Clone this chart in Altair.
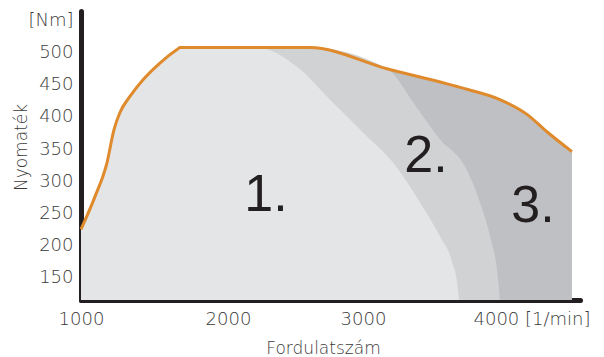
import altair as alt
import pandas as pd

# Full-load torque curve (orange line)
torque_rpm = [1000, 1095, 1177, 1224, 1265, 1333, 1422, 1537, 1653, 1673,
              2215, 2607, 3179, 3724, 4022, 4224, 4373, 4560]
torque_nm = [225, 276, 329, 380, 407, 432, 458, 484, 505, 508,
             508, 508, 475, 446, 427, 404, 377, 346]

# Boundary between zone 2 and zone 3
zone2_rpm = [3179, 3403, 3575, 3761, 3873, 3955, 4000, 4022]
zone2_nm = [475, 414, 365, 323, 267, 209, 162, 115]

# Boundary between zone 1 and zone 2
zone1_rpm = [2215, 2511, 2756, 3000, 3224, 3425, 3575, 3664, 3709, 3716]
zone1_nm = [508, 478, 427, 376, 329, 267, 214, 175, 131, 115]

# Zone labels
zone_labels = ["1.", "2.", "3."]
label_rpm = [2281, 3470, 4269]
label_nm = [253, 315, 237]

x_ticks = [1000, 2000, 3000, 4000]
y_ticks = [150, 200, 250, 300, 350, 400, 450, 500, 550]

curve = pd.DataFrame({"rpm": torque_rpm, "nm": torque_nm})


def zone(b_rpm, b_nm):
    pts = [(r, n) for r, n in zip(torque_rpm, torque_nm) if r < b_rpm[0]]
    pts += list(zip(b_rpm, b_nm))
    return pd.DataFrame(pts, columns=["rpm", "nm"])


zone2 = zone(zone2_rpm, zone2_nm)
zone1 = zone(zone1_rpm, zone1_nm)
labels = pd.DataFrame({"t": zone_labels, "rpm": label_rpm, "nm": label_nm})

x_scale = alt.Scale(domain=[1000, 2000, 3000, 4000, 4620],
                    range=[0, 147, 282, 416, 499], nice=False, zero=False)
y_scale = alt.Scale(domain=[115, 565], nice=False, zero=False)

x_axis = alt.Axis(
    values=x_ticks, format="d", title="Fordulatszám",
    labelExpr="datum.value == 4000 ? '4000 [1/min]' : datum.label",
    labelAlign={"condition": {"test": "datum.value == 4000", "value": "left"}, "value": "center"},
    labelOffset={"condition": {"test": "datum.value == 4000", "value": -24}, "value": 0},
    labelPadding=10, labelFlush=False, labelOverlap=False,
    titleX=242, titleY=53, titleBaseline="alphabetic", titleAlign="center",
)
y_axis = alt.Axis(
    values=y_ticks, format="d", title="Nyomaték",
    labelExpr="datum.value == 550 ? '[Nm]' : datum.label",
    labelPadding=8, labelOverlap=False, labelBaseline="middle",
    titleX=-60, titleY=136, titleBaseline="middle", titleAlign="center", titleAngle=270,
)

X = alt.X("rpm:Q", scale=x_scale, axis=x_axis)
Y = alt.Y("nm:Q", scale=y_scale, axis=y_axis)

a3 = alt.Chart(curve).mark_area(color="#bfc0c3", interpolate="monotone", clip=True).encode(x=X, y=Y)
a2 = alt.Chart(zone2).mark_area(color="#d1d2d4", interpolate="monotone", clip=True).encode(x=X, y=Y)
a1 = alt.Chart(zone1).mark_area(color="#e4e5e7", interpolate="monotone", clip=True).encode(x=X, y=Y)
line = alt.Chart(curve).mark_line(color="#df8a2c", strokeWidth=3, interpolate="monotone").encode(x=X, y=Y)
txt = alt.Chart(labels).mark_text(font="Liberation Sans", fontSize=52, color="#231f20",
                                  baseline="alphabetic", align="center").encode(x=X, y=Y, text="t:N")

chart = alt.layer(a3, a2, a1, line, txt).properties(
    width=499, height=289,
    autosize=alt.AutoSizeParams(type="none"),
    padding={"left": 73, "top": 3, "right": 16, "bottom": 56},
).configure_view(stroke=None).configure_axis(
    labelFont="DejaVu Sans", labelFontSize=18, labelColor="#3a3a3a", labelFontWeight=300,
    titleFont="DejaVu Sans", titleFontSize=17, titleColor="#3a3a3a", titleFontWeight=300,
    domainColor="#231f20", domainWidth=5, domainCap="round",
    ticks=False, grid=False, zindex=1,
)

chart.save("out.html", embed_options={"renderer": "svg", "actions": False})
